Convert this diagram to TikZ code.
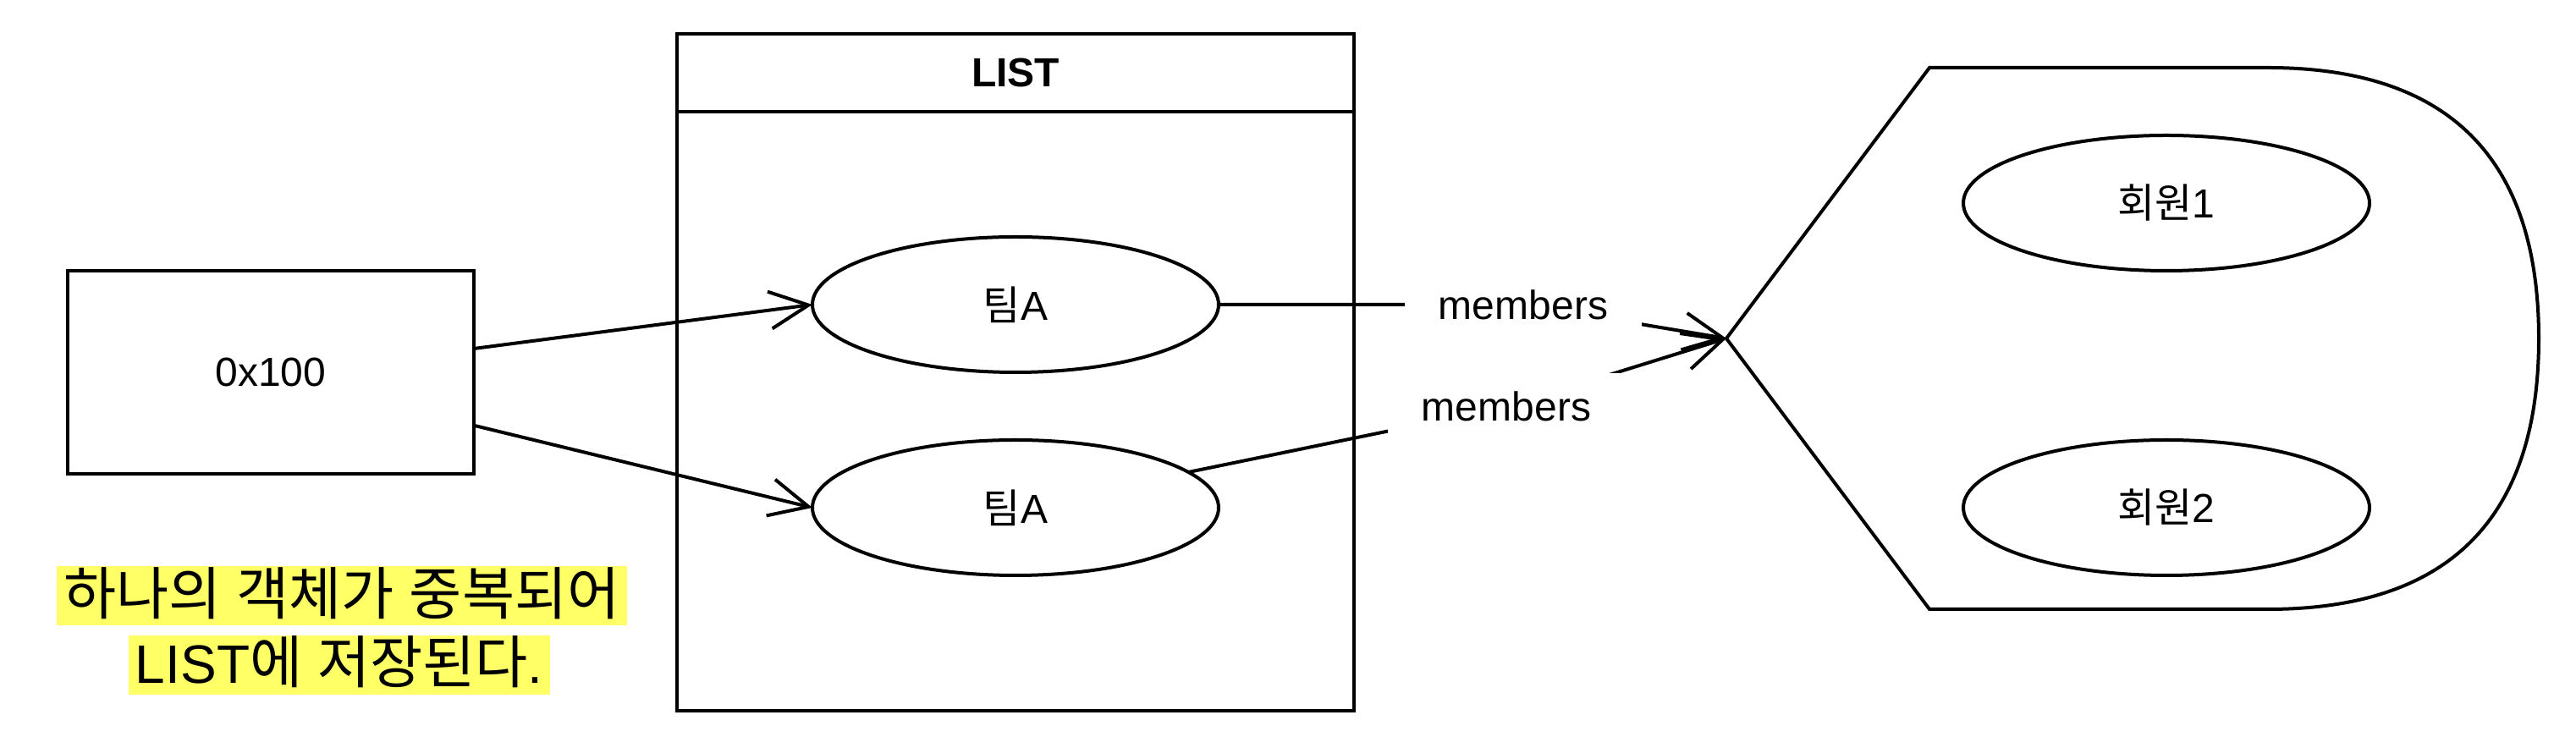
\documentclass[tikz,border=0pt]{standalone}
\usepackage{fontspec}
\setmainfont{Liberation Sans}
\newfontfamily\kr{Noto Sans CJK KR}
\usetikzlibrary{shapes.geometric,arrows.meta}
\definecolor{hlyellow}{HTML}{FFFF66}
\newcommand\K[1]{{\kr #1}}
\newcommand\KB[1]{{\kr\fontsize{16.9pt}{19pt}\selectfont #1}}
\begin{document}
\begin{tikzpicture}[x=1pt,y=-1pt,line width=1pt,
  font=\fontsize{12pt}{14pt}\selectfont,
  box/.style={draw,rectangle,inner sep=0pt,outer sep=0pt},
  oval/.style={draw,ellipse,minimum width=120pt,minimum height=40pt,inner sep=0pt,outer sep=0pt},
  lbl/.style={fill=white,inner sep=0pt,minimum width=70pt,minimum height=20pt},
  arr/.style={-{Straight Barb[length=11.5pt,width=11pt]}},
  hilite/.style={fill=hlyellow,inner xsep=2pt,inner ysep=0pt,text height=14.2pt,text depth=3.3pt,font=\fontsize{16pt}{19pt}\selectfont}]
\useasboundingbox (0,0) rectangle (761,221);
% left box
\node[box,minimum width=120pt,minimum height=60pt] (m) at (80,110) {0x100};
% LIST container
\node[box,minimum width=200pt,minimum height=200pt] (lst) at (300,110) {};
\draw ([yshift=-23pt]lst.north west) -- ([yshift=-23pt]lst.north east);
\node (lt) at (300,21.5) {\bfseries LIST};
\node[oval] (e1) at (300,90) {\K{팀}A};
\node[oval] (e2) at (300,150) {\K{팀}A};
% members shape
\coordinate (sp) at (510,100);
\draw (sp) -- (570,20) -- (670,20) .. controls (723.3,20) and (750,46.7) .. (750,100)
      .. controls (750,153.3) and (723.3,180) .. (670,180) -- (570,180) -- cycle;
\node[oval] (r1) at (640,60) {\K{회원}1};
\node[oval] (r2) at (640,150) {\K{회원}2};
% connectors
\draw[arr] ([yshift=7pt]m.east) -- (e1.west);
\draw[arr] ([yshift=-15.7pt]m.east) -- (e2.west);
\coordinate (w1) at (450,90);
\coordinate (w2) at (445,120.2);
\draw[arr] (e1) -- (w1) -- (sp);
\draw[arr] (e2) -- (w2) -- (sp);
\node[lbl] (l1) at (w1) {members};
\node[lbl] (l2) at (w2) {members};
% note
\node[hilite] (n1) at (101,176.1) {\KB{하나의} \KB{객체가} \KB{중복되어}};
\node[hilite] (n2) at (100.2,196.5) {LIST\KB{에} \KB{저장된다}.};
\end{tikzpicture}
\end{document}
